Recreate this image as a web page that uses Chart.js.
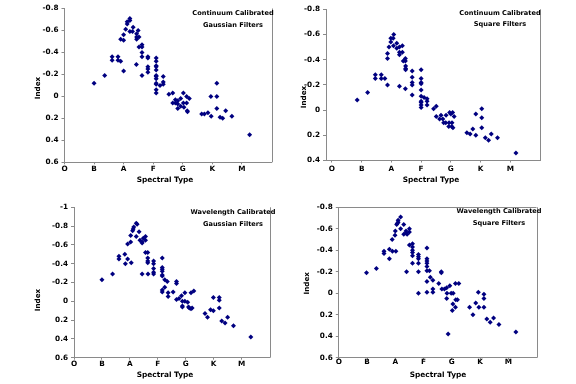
<!DOCTYPE html>
<html><head><meta charset="utf-8">
<script src="https://cdn.jsdelivr.net/npm/chart.js@4.4.1/dist/chart.umd.min.js"></script>
<style>
html,body{margin:0;padding:0;background:#fff;width:576px;height:384px;overflow:hidden}
canvas{position:absolute}
</style></head><body>
<canvas id="c1" width="288" height="192" style="left:0;top:0"></canvas>
<canvas id="c2" width="288" height="192" style="left:288px;top:0"></canvas>
<canvas id="c3" width="288" height="192" style="left:0;top:192px"></canvas>
<canvas id="c4" width="288" height="192" style="left:288px;top:192px"></canvas>
<script>
// Categories (spectral types at x = 0..6)
const typeLabels = ['O','B','A','F','G','K','M'];
const xTicks = [0,1,2,3,4,5,6];
const yTicksCG = [-0.8,-0.6,-0.4,-0.2,0,0.2,0.4,0.6];
const yTicksCS = [-0.8,-0.6,-0.4,-0.2,0,0.2,0.4];
const yTicksWG = [-1,-0.8,-0.6,-0.4,-0.2,0,0.2,0.4,0.6];
const yTicksWS = [-0.8,-0.6,-0.4,-0.2,0,0.2,0.4,0.6];

// Continuum Calibrated, Gaussian Filters
const cgX = [1.0,1.36,1.61,1.61,1.81,1.81,1.9,2.0,1.9,2.0,
  2.0,2.07,2.12,2.12,2.21,2.21,2.21,2.30,2.32,2.44,
  2.44,2.44,2.49,2.52,2.43,2.52,2.62,2.62,2.62,2.62,
  2.62,2.82,2.82,2.82,2.82,2.82,3.1,3.1,3.1,3.1,
  3.1,3.1,3.1,3.1,3.1,3.1,3.1,3.1,3.23,3.34,
  3.34,3.34,3.53,3.66,3.66,3.75,3.75,3.83,3.83,3.83,
  3.93,3.93,4.02,4.02,4.04,4.13,4.13,4.15,4.22,4.16,
  4.64,4.73,4.85,4.95,4.96,5.15,5.15,5.15,5.26,5.35,
  5.45,5.66,6.26];
const cgY = [-0.12,-0.19,-0.36,-0.33,-0.36,-0.33,-0.32,-0.23,-0.52,-0.51,
  -0.56,-0.61,-0.66,-0.68,-0.69,-0.71,-0.59,-0.59,-0.63,-0.57,
  -0.54,-0.52,-0.60,-0.54,-0.29,-0.45,-0.45,-0.47,-0.40,-0.36,
  -0.19,-0.36,-0.35,-0.27,-0.25,-0.22,-0.35,-0.32,-0.28,-0.27,
  -0.24,-0.19,-0.18,-0.16,-0.12,-0.11,-0.06,-0.03,-0.10,-0.18,
  -0.13,-0.11,-0.02,-0.03,0.06,0.03,0.06,0.04,0.07,0.11,
  0.02,0.09,-0.03,0.06,0.10,0.0,0.06,0.13,0.02,0.14,
  0.16,0.16,0.15,0.0,0.18,-0.12,0.0,0.11,0.19,0.20,
  0.13,0.18,0.35];

// Continuum Calibrated, Square Filters
const csX = [0.85,1.2,1.46,1.46,1.66,1.66,1.78,1.87,1.87,1.87,
  1.92,1.98,1.98,2.06,2.08,2.07,2.18,2.18,2.27,2.27,
  2.27,2.27,2.37,2.37,2.4,2.47,2.47,2.48,2.48,2.48,
  2.47,2.7,2.7,2.7,2.7,2.7,3.0,3.0,3.0,3.0,
  3.0,3.0,3.0,3.0,3.0,3.0,3.1,3.2,3.2,3.2,
  3.42,3.51,3.51,3.62,3.67,3.73,3.76,3.83,3.84,3.94,
  4.04,3.96,4.0,4.03,3.93,4.07,4.11,4.06,4.54,4.65,
  4.74,4.84,4.84,5.04,5.04,5.04,5.16,5.27,5.36,5.57,
  6.19];
const csY = [-0.08,-0.14,-0.28,-0.25,-0.28,-0.25,-0.25,-0.20,-0.45,-0.41,
  -0.50,-0.54,-0.57,-0.57,-0.60,-0.51,-0.53,-0.49,-0.50,-0.46,
  -0.44,-0.19,-0.51,-0.46,-0.39,-0.39,-0.41,-0.35,-0.33,-0.32,
  -0.17,-0.31,-0.26,-0.22,-0.20,-0.12,-0.32,-0.25,-0.22,-0.21,
  -0.16,-0.11,-0.07,-0.06,-0.04,-0.02,-0.10,-0.09,-0.07,-0.04,
  -0.01,-0.03,0.05,0.07,0.04,0.07,0.10,0.10,0.04,0.10,
  0.10,0.02,0.03,0.13,0.13,0.14,0.05,0.02,0.18,0.19,
  0.15,0.03,0.20,-0.01,0.06,0.14,0.22,0.24,0.19,0.22,
  0.34];

// Wavelength Calibrated, Gaussian Filters
const wgX = [1.0,1.38,1.61,1.61,1.82,1.84,1.92,2.05,1.92,2.03,
  2.03,2.1,2.12,2.14,2.23,2.26,2.23,2.33,2.36,2.44,
  2.44,2.48,2.56,2.56,2.44,2.56,2.64,2.64,2.64,2.64,
  2.65,2.85,2.85,2.85,2.85,2.85,3.16,3.16,3.16,3.16,
  3.16,3.16,3.16,3.16,3.25,3.25,3.34,3.37,3.37,3.55,
  3.67,3.67,3.67,3.76,3.85,3.88,3.88,3.88,3.97,3.97,
  4.07,4.1,4.13,4.19,4.19,4.29,4.23,4.69,4.78,4.89,
  4.99,4.99,5.2,5.2,5.2,5.29,5.41,5.5,5.71,6.33];
const wgY = [-0.23,-0.29,-0.48,-0.45,-0.50,-0.40,-0.45,-0.41,-0.61,-0.63,
  -0.70,-0.75,-0.77,-0.79,-0.83,-0.82,-0.69,-0.74,-0.65,-0.63,
  -0.62,-0.67,-0.69,-0.65,-0.29,-0.52,-0.52,-0.46,-0.43,-0.41,
  -0.29,-0.43,-0.40,-0.35,-0.31,-0.29,-0.46,-0.36,-0.34,-0.32,
  -0.28,-0.27,-0.12,-0.10,-0.23,-0.15,-0.21,-0.09,-0.05,-0.10,
  -0.21,-0.19,-0.02,-0.03,-0.06,0.05,0.06,0.0,0.0,-0.09,
  0.01,0.06,0.07,0.08,-0.09,-0.11,0.07,0.13,0.17,0.09,
  0.10,-0.04,-0.04,-0.01,0.07,0.21,0.23,0.17,0.26,0.38];

// Wavelength Calibrated, Square Filters
const wsX = [0.98,1.33,1.6,1.6,1.79,1.79,1.9,2.02,1.89,1.99,
  2.0,2.05,2.07,2.1,2.1,2.19,2.19,2.3,2.3,2.38,
  2.38,2.42,2.5,2.5,2.4,2.5,2.61,2.61,2.61,2.61,
  2.61,2.61,2.82,2.82,2.82,2.82,2.82,2.82,3.12,3.12,
  3.12,3.12,3.12,3.12,3.12,3.12,3.21,3.24,3.33,3.33,
  3.33,3.54,3.63,3.63,3.65,3.74,3.82,3.83,3.82,3.87,
  3.93,3.98,4.05,4.04,4.02,4.13,4.13,4.25,4.14,4.2,
  4.63,4.75,4.85,4.94,4.96,5.14,5.14,5.14,5.24,5.36,
  5.48,5.67,6.27];
const wsY = [-0.19,-0.23,-0.39,-0.37,-0.41,-0.32,-0.39,-0.39,-0.50,-0.54,
  -0.58,-0.64,-0.65,-0.68,-0.66,-0.71,-0.60,-0.64,-0.55,-0.58,
  -0.56,-0.55,-0.60,-0.57,-0.20,-0.45,-0.46,-0.43,-0.40,-0.38,
  -0.35,-0.28,-0.36,-0.34,-0.32,-0.28,-0.20,0.0,-0.42,-0.32,
  -0.30,-0.28,-0.25,-0.21,-0.11,-0.01,-0.21,-0.15,-0.12,-0.04,
  -0.01,-0.09,-0.20,-0.19,-0.04,-0.04,-0.05,0.0,0.05,0.38,
  -0.07,0.0,0.0,0.10,0.16,0.13,-0.09,-0.09,0.06,0.06,
  0.13,0.20,0.09,-0.01,0.13,0.01,0.05,0.13,0.24,0.27,
  0.23,0.29,0.36];

const FONT = '"DejaVu Sans", sans-serif';
const NAVY = '#000080';
const AXIS = '#8a8a8a';

function panel(id, xs, ys, yTicks, o) {
  const W = 288, H = 192, HX = 22;
  const ctx = document.getElementById(id).getContext('2d');
  new Chart(ctx, {
    type: 'scatter',
    data: { datasets: [{
      data: xs.map((x, i) => ({ x: x, y: ys[i] })),
      pointStyle: 'rectRot', pointRadius: 2.5, pointHoverRadius: 2.5,
      backgroundColor: NAVY, borderColor: NAVY, borderWidth: 0
    }]},
    options: {
      responsive: false, animation: false, events: [],
      layout: { padding: { left: 0, top: o.t, right: W - o.r, bottom: H - o.b - HX } },
      plugins: { legend: { display: false }, tooltip: { enabled: false } },
      scales: {
        x: {
          type: 'linear', min: o.xmin, max: 7,
          afterBuildTicks: s => { s.ticks = xTicks.map(v => ({ value: v })); },
          afterFit: s => { s.height = HX; },
          ticks: { callback: v => typeLabels[Math.round(v)] || '', autoSkip: false, maxRotation: 0,
                   padding: o.xpad, color: '#000', font: { family: FONT, weight: 'bold', size: 7.3 } },
          grid: { drawOnChartArea: false, drawTicks: true, tickLength: 2, color: AXIS },
          border: { color: AXIS, width: 1 }
        },
        y: {
          type: 'linear', reverse: true, min: yTicks[0], max: yTicks[yTicks.length - 1],
          afterBuildTicks: s => { s.ticks = yTicks.map(v => ({ value: v })); },
          afterFit: s => { s.width = o.l; },
          ticks: { callback: v => String(+(+v).toFixed(1)), padding: 3, color: '#000',
                   font: { family: FONT, weight: 'bold', size: 7.3 } },
          grid: { drawOnChartArea: false, tickLength: 3, color: AXIS },
          border: { color: AXIS, width: 1 }
        }
      }
    },
    plugins: [{
      id: 'deco',
      afterDraw(c) {
        const g = c.ctx, a = c.chartArea;
        g.save();
        g.strokeStyle = AXIS; g.lineWidth = 1;
        g.beginPath();
        g.moveTo(Math.round(a.right) + 0.5, a.top);
        g.lineTo(Math.round(a.right) + 0.5, a.bottom);
        if (o.topBorder) { g.moveTo(a.left, Math.round(a.top) + 0.5); g.lineTo(a.right, Math.round(a.top) + 0.5); }
        g.stroke();
        g.fillStyle = '#000';
        g.textAlign = 'center'; g.textBaseline = 'middle';
        g.font = 'bold 6.6px ' + FONT;
        g.fillText(o.title[0], o.tx, o.ty1);
        g.fillText(o.title[1], o.tx, o.ty2);
        g.font = 'bold 7.4px ' + FONT;
        g.fillText('Spectral Type', o.sx, o.sy);
        g.save();
        g.translate(o.ix, o.iy); g.rotate(-Math.PI / 2);
        g.font = 'bold 7.2px ' + FONT;
        g.fillText('Index', 0, 0);
        g.restore();
        g.restore();
      }
    }]
  });
}

panel('c1', cgX, cgY, yTicksCG, { l: 64.5, r: 271.5, t: 8.5, b: 162.3, xmin: 0, xpad: 0,
  title: ['Continuum Calibrated', 'Gaussian Filters'], tx: 233, ty1: 13.3, ty2: 25,
  sx: 165, sy: 180, ix: 38, iy: 88 });
panel('c2', csX, csY, yTicksCS, { l: 38, r: 252, t: 9.3, b: 160.5, xmin: -0.2, xpad: 2.6,
  title: ['Continuum Calibrated', 'Square Filters'], tx: 212, ty1: 13, ty2: 24,
  sx: 143, sy: 180, ix: 16, iy: 97 });
panel('c3', wgX, wgY, yTicksWG, { l: 74, r: 269.5, t: 15.3, b: 165.7, xmin: 0, xpad: 0,
  title: ['Wavelength Calibrated', 'Gaussian Filters'], tx: 233, ty1: 20.7, ty2: 32,
  sx: 165, sy: 183, ix: 38, iy: 108 });
panel('c4', wsX, wsY, yTicksWS, { l: 50.8, r: 248.5, t: 15.3, b: 165.7, xmin: 0, xpad: -1.5, topBorder: true,
  title: ['Wavelength Calibrated', 'Square Filters'], tx: 211, ty1: 19, ty2: 31,
  sx: 150, sy: 183, ix: 18.7, iy: 91.3 });
</script>
</body></html>
